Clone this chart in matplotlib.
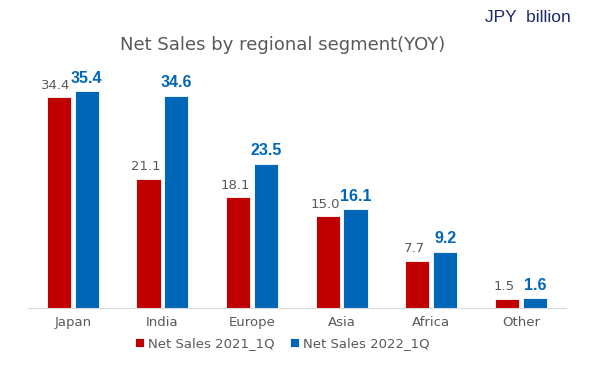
import numpy as np
import matplotlib
matplotlib.use('Agg')
import matplotlib.pyplot as plt

regions = ['Japan', 'India', 'Europe', 'Asia', 'Africa', 'Other']
sales_2021 = [34.4, 21.1, 18.1, 15.0, 7.7, 1.5]
sales_2022 = [35.4, 34.6, 23.5, 16.1, 9.2, 1.6]
series_names = ['Net Sales 2021_1Q', 'Net Sales 2022_1Q']

red = '#C00000'
blue = '#0067B8'

fig = plt.figure(figsize=(6.07, 3.67), dpi=100)
ax = fig.add_axes([0.046, 0.161, 0.886, 0.676])

x = np.arange(len(regions))
w = 0.27
b1 = ax.bar(x - w / 2 - 0.02, sales_2021, w, color=red, edgecolor='white', linewidth=0.6,
            label=series_names[0])
b2 = ax.bar(x + w / 2 + 0.02, sales_2022, w, color=blue, edgecolor='white', linewidth=0.6,
            label=series_names[1])

for r, v in zip(b1, sales_2021):
    ax.text(r.get_x() + r.get_width() / 2 - 0.03, v + 0.9, f'{v:.1f}', ha='center', va='bottom',
            fontsize=9.5, color='#595959')
for r, v in zip(b2, sales_2022):
    ax.text(r.get_x() + r.get_width() / 2, v + 0.9, f'{v:.1f}', ha='center', va='bottom',
            fontsize=11.5, fontweight='bold', color=blue, family='Liberation Sans')

ax.set_xlim(-0.5, len(regions) - 0.5)
ax.set_ylim(0, 40.5)
ax.set_xticks(x)
ax.set_xticklabels(regions, fontsize=9.5, color='#595959')
ax.tick_params(axis='x', length=0, pad=6)
ax.set_yticks([])
for s in ['top', 'right', 'left']:
    ax.spines[s].set_visible(False)
ax.spines['bottom'].set_color('#D9D9D9')

fig.text(0.465, 0.877, 'Net Sales by regional segment(YOY)', ha='center', va='center',
         fontsize=13, color='#595959')
fig.text(0.94, 0.953, 'JPY  billion', ha='right', va='center', fontsize=12.5,
         color='#1F2A6B', family='Liberation Sans')

fig.legend(loc='center', bbox_to_anchor=(0.465, 0.063), ncol=2, frameon=False,
           fontsize=9.5, handlelength=0.7, handleheight=0.7, handletextpad=0.3,
           columnspacing=1.2, labelcolor='#595959')

fig.savefig('out.png', dpi=100)
